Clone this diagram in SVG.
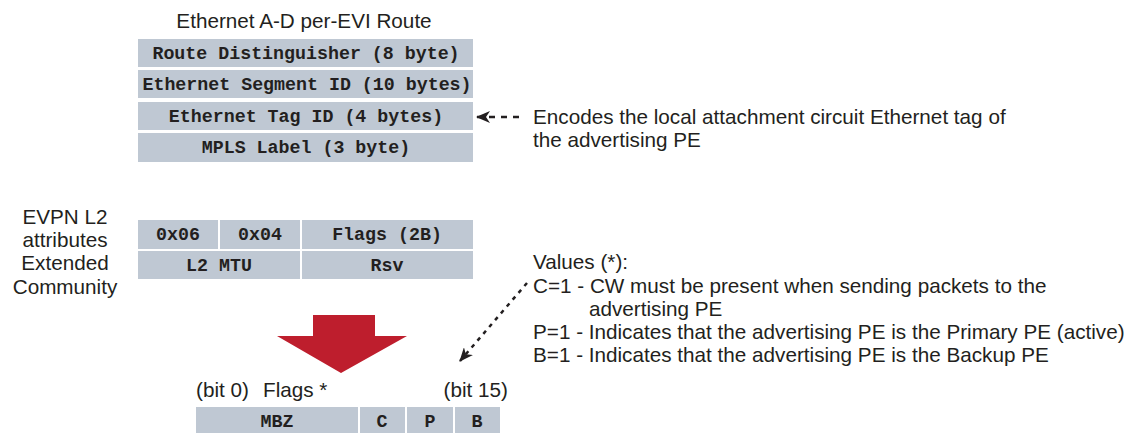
<svg xmlns="http://www.w3.org/2000/svg" width="1130" height="433" viewBox="0 0 1130 433">
<style>
.cell{fill:#bfc8d3}
.mono{font-family:"Liberation Mono","Courier New",monospace;font-weight:bold;font-size:18.3px;fill:#231f20;text-anchor:middle}
.sans{font-family:"Liberation Sans",Arial,sans-serif;font-size:20.7px;fill:#231f20}
.dash{stroke:#231f20;stroke-width:2.5;fill:none;stroke-dasharray:6 6}
.dot{stroke:#231f20;stroke-width:2.5;fill:none;stroke-dasharray:4 5}
</style>
<defs>
<marker id="ah" viewBox="0 0 14 12" refX="13" refY="6" markerWidth="14" markerHeight="12" markerUnits="userSpaceOnUse" orient="auto">
<path d="M0,0 L14,6 L0,12 L4,6 Z" fill="#231f20"/>
</marker>
</defs>
<rect width="1130" height="433" fill="#ffffff"/>

<g id="route">
<text class="sans" x="304" y="28" text-anchor="middle">Ethernet A-D per-EVI Route</text>
<rect class="cell" x="138" y="39" width="335" height="28"/>
<text class="mono" x="306" y="59">Route Distinguisher (8 byte)</text>
<rect class="cell" x="138" y="70" width="335" height="28"/>
<text class="mono" x="307" y="90">Ethernet Segment ID (10 bytes)</text>
<rect class="cell" x="138" y="102" width="335" height="28"/>
<text class="mono" x="306" y="122">Ethernet Tag ID (4 bytes)</text>
<rect class="cell" x="138" y="133" width="335" height="29"/>
<text class="mono" x="306" y="153">MPLS Label (3 byte)</text>
</g>

<g id="tag-note">
<text class="sans" x="533" y="124">Encodes the local attachment circuit Ethernet tag of</text>
<text class="sans" x="533" y="147">the advertising PE</text>
</g>

<g id="evpn-label">
<text class="sans" text-anchor="middle" x="65" y="224">EVPN L2</text>
<text class="sans" text-anchor="middle" x="65" y="247">attributes</text>
<text class="sans" text-anchor="middle" x="65" y="270">Extended</text>
<text class="sans" text-anchor="middle" x="65" y="294">Community</text>
</g>

<g id="l2attr">
<rect class="cell" x="138" y="220" width="80" height="29"/>
<text class="mono" x="178" y="240">0x06</text>
<rect class="cell" x="220" y="220" width="80" height="29"/>
<text class="mono" x="260" y="240">0x04</text>
<rect class="cell" x="302" y="220" width="171" height="29"/>
<text class="mono" x="387" y="240">Flags (2B)</text>
<rect class="cell" x="138" y="251" width="162" height="28"/>
<text class="mono" x="219" y="271">L2 MTU</text>
<rect class="cell" x="302" y="251" width="171" height="28"/>
<text class="mono" x="387" y="271">Rsv</text>
</g>

<g id="values-note">
<text class="sans" x="533" y="269">Values (*):</text>
<text class="sans" x="533" y="293">C=1 - CW must be present when sending packets to the</text>
<text class="sans" x="589" y="316">advertising PE</text>
<text class="sans" x="533" y="339">P=1 - Indicates that the advertising PE is the Primary PE (active)</text>
<text class="sans" x="533" y="362">B=1 - Indicates that the advertising PE is the Backup PE</text>
</g>

<g id="big-arrow">
<path d="M313,315 H375 V336 H407 L341,373 L277,336 H313 Z" fill="#be1e2d"/>
</g>

<g id="flags">
<text class="sans" x="196" y="397">(bit 0)</text>
<text class="sans" x="263" y="397">Flags *</text>
<text class="sans" x="508" y="397" text-anchor="end">(bit 15)</text>
<rect class="cell" x="196" y="407" width="162" height="26"/>
<text class="mono" x="277" y="427">MBZ</text>
<rect class="cell" x="360" y="407" width="45" height="26"/>
<text class="mono" x="382" y="427">C</text>
<rect class="cell" x="407" y="407" width="46" height="26"/>
<text class="mono" x="430" y="427">P</text>
<rect class="cell" x="455" y="407" width="45" height="26"/>
<text class="mono" x="477" y="427">B</text>
</g>

<g id="connectors">
<line class="dash" x1="519" y1="117" x2="477" y2="117" marker-end="url(#ah)"/>
<line class="dot" x1="527" y1="283" x2="460" y2="361" marker-end="url(#ah)"/>
</g>
</svg>
